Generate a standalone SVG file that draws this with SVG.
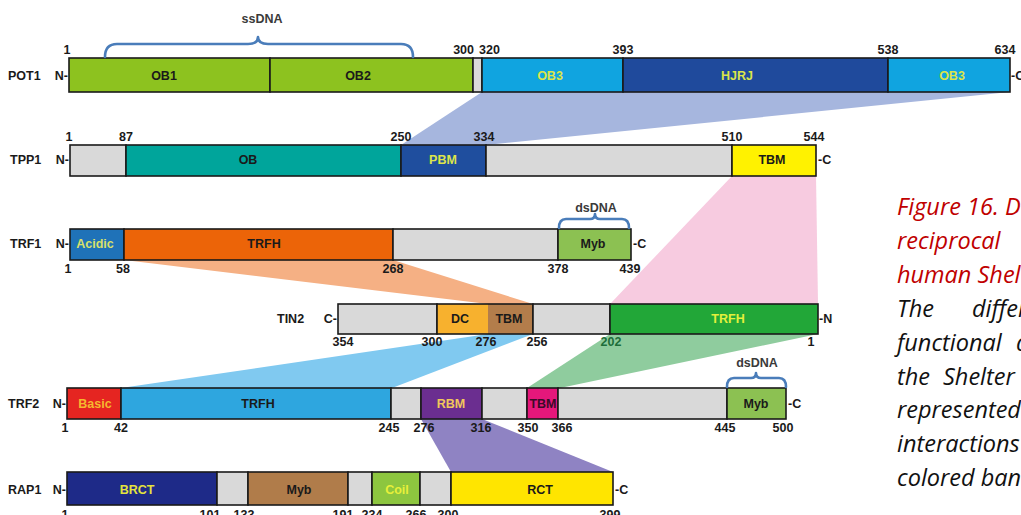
<svg xmlns="http://www.w3.org/2000/svg" width="1021" height="515" viewBox="0 0 1021 515">
<style>
text{font-family:"Liberation Sans",Arial,sans-serif;font-weight:bold;font-size:12.5px;fill:#1a1a1a}
.m{text-anchor:middle}
.e{text-anchor:end}
.y{fill:#dce54a}
.seg{stroke:#1a1a1a;stroke-width:1.6}
.g{fill:#d9d9d9}
.br{fill:none;stroke:#4a7dba;stroke-width:2.6;stroke-linecap:round;stroke-linejoin:round}
.lab{fill:#3a3a3a}
.cap{font-family:"Open Sans","Noto Sans",sans-serif;font-style:italic;font-weight:normal;font-size:23.5px}
.red{fill:#c00000}
.blk{fill:#111}
</style>
<rect width="1021" height="515" fill="#fff"/>
<g id="connectors">
<polygon points="482,92 1010,92 486,145 401,145" fill="#a6b6de"/>
<polygon points="124,260 393,260 533,304 488,304" fill="#f5b084"/>
<polygon points="732,176 816,176 818,304 610,304" fill="#f7cbe0"/>
<polygon points="488,334 533,334 392,388 121,388" fill="#80c9f0"/>
<polygon points="610,334 818,334 560,388 527,388" fill="#8fcc9e"/>
<polygon points="421,419 482,419 613,472 451,472" fill="#8f83c3"/>
</g>
<g id="POT1">
<text x="8" y="80">POT1</text>
<text class="e" x="68" y="80">N-</text>
<rect class="seg" x="69" y="58" width="201" height="34" fill="#8dc21f"/>
<rect class="seg" x="270" y="58" width="203" height="34" fill="#8dc21f"/>
<rect class="seg g" x="473" y="58" width="9" height="34"/>
<rect class="seg" x="482" y="58" width="141" height="34" fill="#10a4e0"/>
<rect class="seg" x="623" y="58" width="265" height="34" fill="#1f4a9c"/>
<rect class="seg" x="888" y="58" width="122" height="34" fill="#10a4e0"/>
<text x="1011" y="80">-C</text>
<text class="m" x="164" y="80">OB1</text>
<text class="m" x="358" y="80">OB2</text>
<text class="m y" x="550" y="80">OB3</text>
<text class="m y" x="737" y="80">HJRJ</text>
<text class="m y" x="952" y="80">OB3</text>
<text class="m" x="67" y="54">1</text>
<text class="e" x="474" y="54">300</text>
<text x="479" y="54">320</text>
<text class="m" x="623" y="54">393</text>
<text class="m" x="888" y="54">538</text>
<text class="m" x="1005" y="54">634</text>
<path class="br" d="M105,57 Q105,44 117,44 L248,44 Q258,44 258,37 Q258,44 268,44 L401,44 Q413,44 413,57"/>
<text class="m lab" x="262" y="23">ssDNA</text>
</g>
<g id="TPP1">
<text x="10" y="164">TPP1</text>
<text class="e" x="69" y="164">N-</text>
<rect class="seg g" x="70" y="145" width="56" height="31"/>
<rect class="seg" x="126" y="145" width="275" height="31" fill="#00a59b"/>
<rect class="seg" x="401" y="145" width="85" height="31" fill="#1f4e9e"/>
<rect class="seg g" x="486" y="145" width="246" height="31"/>
<rect class="seg" x="732" y="145" width="84" height="31" fill="#fff200"/>
<text x="818" y="164">-C</text>
<text class="m" x="248" y="164">OB</text>
<text class="m y" x="443" y="164">PBM</text>
<text class="m" x="772" y="164">TBM</text>
<text class="m" x="69" y="141">1</text>
<text class="m" x="126" y="141">87</text>
<text class="m" x="401" y="141">250</text>
<text class="m" x="484" y="141">334</text>
<text class="m" x="732" y="141">510</text>
<text class="m" x="814" y="141">544</text>
</g>
<g id="TRF1">
<text x="10" y="248">TRF1</text>
<text class="e" x="69" y="248">N-</text>
<rect class="seg" x="70" y="229" width="54" height="31" fill="#1f72b8"/>
<rect class="seg" x="124" y="229" width="269" height="31" fill="#ec6408"/>
<rect class="seg g" x="393" y="229" width="165" height="31"/>
<rect class="seg" x="558" y="229" width="73" height="31" fill="#8cc152"/>
<text x="633" y="248">-C</text>
<text class="m" x="95" y="248" style="fill:#d8e06a">Acidic</text>
<text class="m" x="264" y="248">TRFH</text>
<text class="m" x="593" y="248">Myb</text>
<text class="m" x="68" y="273">1</text>
<text class="m" x="123" y="273">58</text>
<text class="m" x="393" y="273">268</text>
<text class="m" x="558" y="273">378</text>
<text class="m" x="630" y="273">439</text>
<path class="br" d="M559,228 Q559,219 566,219 L590,219 Q595,219 595,214 Q595,219 600,219 L622,219 Q629,219 629,228"/>
<text class="m lab" x="596" y="212">dsDNA</text>
</g>
<g id="TIN2">
<text x="277" y="323">TIN2</text>
<text class="e" x="337" y="323">C-</text>
<rect class="seg g" x="338" y="304" width="99" height="30"/>
<rect x="437" y="304" width="51" height="30" fill="#f7b12e"/>
<rect x="488" y="304" width="45" height="30" fill="#b37d4b"/>
<rect class="seg" x="437" y="304" width="96" height="30" fill="none"/>
<rect class="seg g" x="533" y="304" width="77" height="30"/>
<rect class="seg" x="610" y="304" width="208" height="30" fill="#22a738"/>
<text x="819" y="323">-N</text>
<text class="m" x="460" y="323">DC</text>
<text class="m" x="509" y="323">TBM</text>
<text class="m" x="728" y="323" style="fill:#e4f03c">TRFH</text>
<text class="m" x="343" y="346">354</text>
<text class="m" x="432" y="346">300</text>
<text class="m" x="486" y="346">276</text>
<text class="m" x="537" y="346">256</text>
<text class="m" x="611" y="346" style="fill:#1d6e3a">202</text>
<text class="m" x="811" y="346">1</text>
</g>
<g id="TRF2">
<text x="8" y="408">TRF2</text>
<text class="e" x="66" y="408">N-</text>
<rect class="seg" x="67" y="388" width="54" height="31" fill="#e52521"/>
<rect class="seg" x="121" y="388" width="270" height="31" fill="#2ea6df"/>
<rect class="seg g" x="391" y="388" width="30" height="31"/>
<rect class="seg" x="421" y="388" width="61" height="31" fill="#6b2e90"/>
<rect class="seg g" x="482" y="388" width="45" height="31"/>
<rect class="seg" x="527" y="388" width="31" height="31" fill="#e5177b"/>
<rect class="seg g" x="558" y="388" width="169" height="31"/>
<rect class="seg" x="727" y="388" width="59" height="31" fill="#8cc152"/>
<text x="788" y="408">-C</text>
<text class="m" x="95" y="408" style="fill:#f5b82e">Basic</text>
<text class="m" x="258" y="408">TRFH</text>
<text class="m" x="451" y="408" style="fill:#f1c85b">RBM</text>
<text class="m" x="543" y="408" style="fill:#3a0a28">TBM</text>
<text class="m" x="756" y="408">Myb</text>
<text class="m" x="65" y="432">1</text>
<text class="m" x="121" y="432">42</text>
<text class="m" x="389" y="432">245</text>
<text class="m" x="424" y="432">276</text>
<text class="m" x="481" y="432">316</text>
<text class="m" x="528" y="432">350</text>
<text class="m" x="562" y="432">366</text>
<text class="m" x="725" y="432">445</text>
<text class="m" x="783" y="432">500</text>
<path class="br" d="M727,387 Q727,378 734,378 L751,378 Q756,378 756,373 Q756,378 761,378 L779,378 Q786,378 786,387"/>
<text class="m lab" x="757" y="367">dsDNA</text>
</g>
<g id="RAP1">
<text x="8" y="494">RAP1</text>
<text class="e" x="66" y="494">N-</text>
<rect class="seg" x="67" y="472" width="150" height="33" fill="#1e2a88"/>
<rect class="seg g" x="217" y="472" width="31" height="33"/>
<rect class="seg" x="248" y="472" width="100" height="33" fill="#b07c4a"/>
<rect class="seg g" x="348" y="472" width="24" height="33"/>
<rect class="seg" x="372" y="472" width="48" height="33" fill="#8dc63f"/>
<rect class="seg g" x="420" y="472" width="31" height="33"/>
<rect class="seg" x="451" y="472" width="162" height="33" fill="#ffe500"/>
<text x="615" y="494">-C</text>
<text class="m" x="137" y="494" style="fill:#e4e43c">BRCT</text>
<text class="m" x="299" y="494">Myb</text>
<text class="m" x="397" y="494" style="fill:#e8f03a">Coil</text>
<text class="m" x="540" y="494">RCT</text>
<text class="m" x="65" y="519">1</text>
<text class="m" x="210" y="519">101</text>
<text class="m" x="244" y="519">133</text>
<text class="m" x="343" y="519">191</text>
<text class="m" x="372" y="519">234</text>
<text class="m" x="416" y="519">266</text>
<text class="m" x="448" y="519">300</text>
<text class="m" x="610" y="519">399</text>
</g>
<g id="caption">
<text class="cap red" x="897" y="215">Figure 16. D</text>
<text class="cap red" x="897" y="249">reciprocal</text>
<text class="cap red" x="897" y="283">human Shel</text>
<text class="cap blk" x="897" y="317">The</text>
<text class="cap blk" x="972" y="317">differ</text>
<text class="cap blk" x="897" y="351">functional</text>
<text class="cap blk" x="1016" y="351">d</text>
<text class="cap blk" x="897" y="385">the</text>
<text class="cap blk" x="943" y="385">Shelter</text>
<text class="cap blk" x="897" y="418">represented</text>
<text class="cap blk" x="897" y="452">interactions</text>
<text class="cap blk" x="897" y="486">colored ban</text>
</g>
</svg>
